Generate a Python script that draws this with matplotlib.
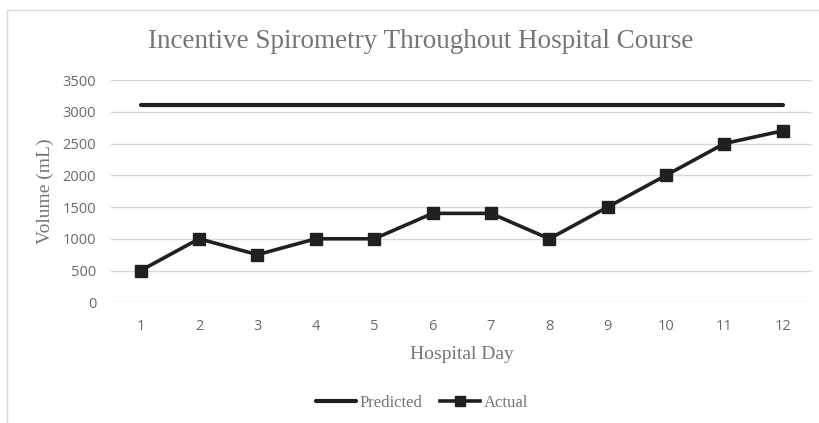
import matplotlib
matplotlib.use("Agg")
import matplotlib.pyplot as plt
from matplotlib.patches import Rectangle

# data
days = [1, 2, 3, 4, 5, 6, 7, 8, 9, 10, 11, 12]
predicted = [3100] * 12
actual = [500, 1000, 750, 1000, 1000, 1400, 1400, 1000, 1500, 2000, 2500, 2700]
y_ticks = [0, 500, 1000, 1500, 2000, 2500, 3000, 3500]

title = "Incentive Spirometry Throughout Hospital Course"
line_color = "#231f20"
text_color = "#767676"
tick_color = "#6a6a6a"
grid_color = "#d9d9d9"
serif = "Liberation Serif"
sans = "Open Sans"

fig = plt.figure(figsize=(8.2, 4.23), dpi=100)
W, H = 820, 423

# light chart-area border (right/bottom run off the image)
fig.patches.append(Rectangle((7 / W, -1), 2.0, 2 - 10 / H, transform=fig.transFigure,
                             fill=False, edgecolor=grid_color, linewidth=1.0))

ax = fig.add_axes([111.5 / W, 1 - 302.3 / H, (812 - 111.5) / W, (302.3 - 80) / H])

ax.plot(days, predicted, color=line_color, linewidth=3.0, solid_capstyle="round",
        label="Predicted", zorder=3)
ax.plot(days, actual, color=line_color, linewidth=2.6, marker="s", markersize=8,
        label="Actual", zorder=4)

ax.set_xlim(0.5, 12.5)
ax.set_ylim(0, 3500)
ax.set_xticks(days)
ax.set_yticks(y_ticks)
ax.grid(axis="y", color=grid_color, linewidth=1.0)
ax.set_axisbelow(True)
for s in ax.spines.values():
    s.set_visible(False)
ax.tick_params(length=0, labelcolor=tick_color, labelsize=10.5)
ax.tick_params(axis="x", pad=12)
ax.tick_params(axis="y", pad=11)
for lab in ax.get_xticklabels() + ax.get_yticklabels():
    lab.set_fontfamily(sans)

ax.set_xlabel("Hospital Day", family=serif, fontsize=14, color=text_color, labelpad=9)
ax.set_ylabel("Volume (mL)", family=serif, fontsize=14, color=text_color, labelpad=6)

fig.text(421 / W, 1 - 42 / H, title, family=serif, fontsize=19.5, color=text_color,
         ha="center", va="center")

leg = fig.legend(loc="center", bbox_to_anchor=(422 / W, 1 - 403 / H), ncol=2,
                 frameon=False, prop={"family": serif, "size": 12},
                 handlelength=2.4, handletextpad=0.2, columnspacing=1.1)
for t in leg.get_texts():
    t.set_color(text_color)
leg.legend_handles[1].set_markersize(6.5)

fig.savefig("out.png", dpi=100)
